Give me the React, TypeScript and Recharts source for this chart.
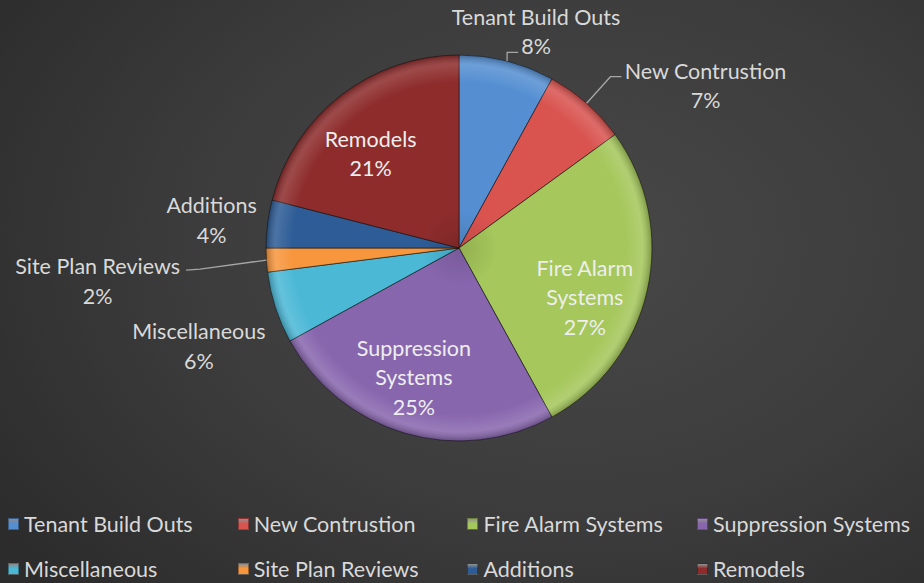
import React from 'react';
import { PieChart, Pie, Cell, Legend } from 'recharts';

const categories = [
  'Tenant Build Outs',
  'New Contrustion',
  'Fire Alarm Systems',
  'Suppression Systems',
  'Miscellaneous',
  'Site Plan Reviews',
  'Additions',
  'Remodels',
];
const shares = [8, 7, 27, 25, 6, 2, 4, 21];
const labelLines = [
  ['Tenant Build Outs'],
  ['New Contrustion'],
  ['Fire Alarm', 'Systems'],
  ['Suppression', 'Systems'],
  ['Miscellaneous'],
  ['Site Plan Reviews'],
  ['Additions'],
  ['Remodels'],
];

const colors = ['#558fd2', '#d9534f', '#a5c75b', '#8866ae', '#4bb8d6', '#f7963d', '#2d5c96', '#8e2c2c'];

// label layout: distance factor from centre, angle shift (deg clockwise), inside?, leader
const labelLayout = [
  { f: 1.19, off: 5.2, inside: false, leader: { line: 1, side: 'right' } },
  { f: 1.53, off: 15.2, inside: false, leader: { line: 0, side: 'right' } },
  { f: 0.7, off: 8.8, inside: true, leader: null },
  { f: 0.71, off: 3, inside: true, leader: null },
  { f: 1.44, off: -2.6, inside: false, leader: null },
  { f: 1.88, off: -1.6, inside: false, leader: { line: 0, side: 'left' } },
  { f: 1.29, off: -0.8, inside: false, leader: null },
  { f: 0.67, off: -5.3, inside: true, leader: null },
];

const data = categories.map((name, i) => ({ name, value: shares[i] }));

const FONT = 'Lato, "Open Sans", sans-serif';
const FS = 21.5;
const LINE_H = 29.5;

let ctx: CanvasRenderingContext2D | null = null;
function textWidth(t: string) {
  if (!ctx) {
    const c = document.createElement('canvas');
    ctx = c.getContext('2d');
  }
  if (!ctx) return t.length * FS * 0.5;
  ctx.font = `${FS}px Lato`;
  return ctx.measureText(t).width;
}

const RAD = Math.PI / 180;

function renderLabel(props: any) {
  const { cx, cy, midAngle, outerRadius, index, percent } = props;
  const lay = labelLayout[index];
  const theta = 90 - midAngle; // clockwise from top
  const a = theta + lay.off;
  const d = outerRadius * lay.f;
  const lx = cx + d * Math.sin(a * RAD);
  const ly = cy - d * Math.cos(a * RAD);
  const lines = [...labelLines[index], `${Math.round(percent * 100)}%`];
  const n = lines.length;
  const y0 = ly - ((n - 1) * LINE_H) / 2;
  const color = lay.inside ? '#eeeeee' : '#d9d9d9';
  let leader = null;
  if (lay.leader) {
    const sx = cx + outerRadius * Math.sin(theta * RAD);
    const sy = cy - outerRadius * Math.cos(theta * RAD);
    const li = lay.leader.line;
    const w = textWidth(lines[li]);
    const lineY = y0 + li * LINE_H;
    let ex, ey, bx, by;
    if (lay.leader.side === 'right') {
      ex = lx - w / 2 - 3;
      ey = lineY + 6;
      bx = ex - 11;
      by = ey;
    } else {
      ex = lx + w / 2 + 6;
      ey = lineY + 4;
      bx = ex + 14;
      by = ey - 1;
    }
    leader = (
      <polyline
        points={`${sx},${sy} ${bx},${by} ${ex},${ey}`}
        fill="none"
        stroke="#a6a6a6"
        strokeWidth={1.3}
      />
    );
  }
  return (
    <g key={`lbl-${index}`}>
      {leader}
      <text
        x={lx}
        y={y0}
        fill={color}
        fontFamily={FONT}
        fontSize={FS}
        textAnchor="middle"
        dominantBaseline="central"
      >
        {lines.map((t, i) => (
          <tspan key={i} x={lx} y={y0 + i * LINE_H}>
            {t}
          </tspan>
        ))}
      </text>
    </g>
  );
}

function LegendContent(props: any) {
  const payload = (props.payload || [])
    .filter((p: any) => p.type !== 'none' && categories.indexOf(p.value) >= 0)
    .slice()
    .sort((a: any, b: any) => categories.indexOf(a.value) - categories.indexOf(b.value));
  return (
    <div style={{ position: 'relative', width: 924, height: 83 }}>
      {payload.map((p: any, i: number) => {
        const col = i % 4;
        const row = Math.floor(i / 4);
        const x = 8 + col * 229.7;
        const y = row * 45;
        const c = colors[categories.indexOf(p.value)];
        return (
          <div
            key={p.value}
            style={{
              position: 'absolute',
              left: x,
              top: y,
              height: 28,
              display: 'flex',
              alignItems: 'center',
              whiteSpace: 'nowrap',
              fontFamily: FONT,
              fontSize: FS,
              color: '#d9d9d9',
            }}
          >
            <span
              style={{
                display: 'inline-block',
                width: 11,
                height: 12,
                marginRight: 5,
                background: `linear-gradient(180deg, rgba(255,255,255,0.45), ${c} 45%, ${c})`,
                border: '1px solid rgba(0,0,0,0.35)',
                boxSizing: 'border-box',
              }}
            />
            {p.value}
          </div>
        );
      })}
    </div>
  );
}

export default function App() {
  return (
    <div
      style={{
        position: 'absolute',
        left: 0,
        top: 0,
        width: 924,
        height: 583,
        background: 'radial-gradient(ellipse 75% 85% at 62% 42%, #484848 0%, #3c3c3c 55%, #2c2c2c 100%)',
      }}
    >
      <PieChart width={924} height={583} margin={{ top: 0, right: 0, bottom: 0, left: 0 }}>
        <defs>
          <radialGradient id="bevel" gradientUnits="userSpaceOnUse" cx={459} cy={248} r={193}>
            <stop offset="0%" stopColor="#000" stopOpacity={0.12} />
            <stop offset="20%" stopColor="#000" stopOpacity={0} />
            <stop offset="86%" stopColor="#fff" stopOpacity={0} />
            <stop offset="95%" stopColor="#fff" stopOpacity={0.14} />
            <stop offset="100%" stopColor="#000" stopOpacity={0.25} />
          </radialGradient>
        </defs>
        <Pie
          data={data}
          dataKey="value"
          nameKey="name"
          cx={459}
          cy={248}
          outerRadius={193}
          startAngle={90}
          endAngle={-270}
          stroke="rgba(20,20,20,0.6)"
          strokeWidth={1}
          label={renderLabel}
          labelLine={false}
          isAnimationActive={false}
        >
          {data.map((d, i) => (
            <Cell key={d.name} fill={colors[i]} />
          ))}
        </Pie>
        <Pie
          data={data}
          dataKey="value"
          cx={459}
          cy={248}
          outerRadius={193}
          startAngle={90}
          endAngle={-270}
          fill="url(#bevel)"
          stroke="none"
          legendType="none"
          isAnimationActive={false}
        >
          {data.map((d) => (
            <Cell key={d.name} fill="url(#bevel)" />
          ))}
        </Pie>
        <Legend
          content={<LegendContent />}
          itemSorter={null as any}
          wrapperStyle={{ position: 'absolute', left: 0, top: 510, width: 924 }}
        />
      </PieChart>
    </div>
  );
}
